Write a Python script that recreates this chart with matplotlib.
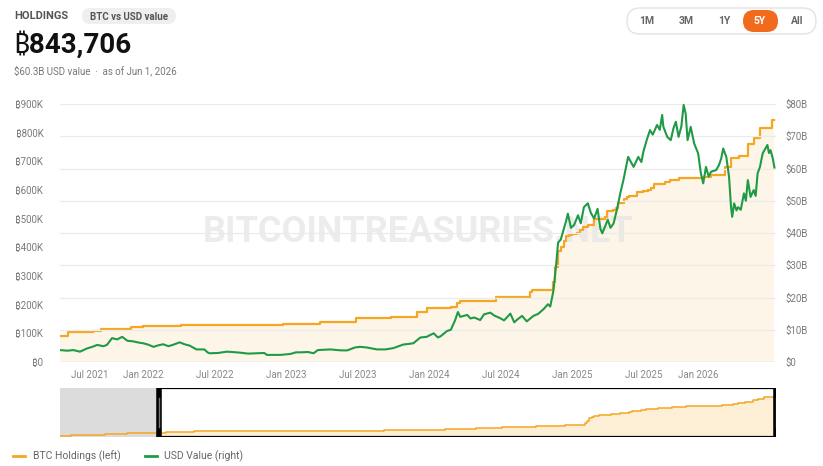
import numpy as np
import pandas as pd
import matplotlib
matplotlib.use("Agg")
from matplotlib import pyplot as plt
from matplotlib.patches import FancyBboxPatch, Rectangle
import matplotlib.dates as mdates

plt.rcParams['font.family'] = ['Roboto', 'Noto Sans', 'DejaVu Sans']

# BTC holdings (step changes)
hold_dates = ["2020-08-11", "2020-09-14", "2020-12-04", "2020-12-21", "2021-02-02", "2021-02-24",
              "2021-04-05", "2021-06-01", "2021-06-21", "2021-08-24", "2021-09-13", "2021-11-29",
              "2021-12-09", "2021-12-30", "2022-02-01", "2022-04-05", "2022-06-29", "2022-09-20",
              "2022-12-22", "2023-03-27", "2023-04-05", "2023-06-28", "2023-08-01", "2023-09-25",
              "2023-11-30", "2023-12-27", "2024-02-06", "2024-02-26", "2024-03-11", "2024-03-19",
              "2024-06-20", "2024-09-13", "2024-09-20", "2024-11-11", "2024-11-18", "2024-11-25",
              "2024-12-02", "2024-12-09", "2024-12-16", "2024-12-23", "2024-12-30", "2025-01-13",
              "2025-01-21", "2025-01-27", "2025-02-10", "2025-02-24", "2025-03-24", "2025-03-31",
              "2025-04-14", "2025-04-21", "2025-04-28", "2025-05-12", "2025-05-19", "2025-05-26",
              "2025-06-16", "2025-06-30", "2025-07-14", "2025-07-21", "2025-07-29", "2025-08-25",
              "2025-09-08", "2025-09-29", "2025-12-01", "2025-12-22", "2026-01-26", "2026-02-09",
              "2026-03-02", "2026-03-25", "2026-04-09", "2026-04-26", "2026-05-27", "2026-06-01"]
hold_btc = [21454, 38250, 40824, 70470, 71079, 90531,
            91326, 92079, 105085, 108992, 114042, 121044,
            122478, 124391, 125051, 129218, 129699, 130000,
            132500, 138955, 140000, 152333, 152800, 158245,
            174530, 189150, 190000, 193000, 205000, 214246,
            226331, 244800, 252220, 279420, 331200, 386700,
            402100, 423650, 439000, 444262, 446400, 450000,
            461000, 471107, 478740, 499096, 506137, 528185,
            531644, 538200, 553555, 568840, 576230, 580250,
            592100, 597325, 601550, 607770, 620000, 628000,
            636000, 641000, 646000, 652000, 681000, 711000,
            717000, 762000, 781000, 816000, 843706, 843706]

# USD value of holdings, $B
usd_dates = ["2021-06-01", "2021-06-20", "2021-07-05", "2021-07-22", "2021-08-09", "2021-08-25",
             "2021-09-04", "2021-09-20", "2021-09-29", "2021-10-12", "2021-10-25", "2021-11-07",
             "2021-11-20", "2021-12-05", "2021-12-20", "2021-12-31", "2022-01-12", "2022-01-26",
             "2022-02-08", "2022-02-20", "2022-03-05", "2022-03-16", "2022-04-03", "2022-04-15",
             "2022-04-28", "2022-05-10", "2022-05-16", "2022-06-05", "2022-06-13", "2022-06-18",
             "2022-07-10", "2022-08-01", "2022-08-15", "2022-09-04", "2022-09-25", "2022-10-17",
             "2022-11-05", "2022-11-12", "2022-12-16", "2023-01-11", "2023-01-25", "2023-02-05",
             "2023-02-25", "2023-03-11", "2023-03-22", "2023-04-23", "2023-05-20", "2023-06-05",
             "2023-06-25", "2023-07-08", "2023-07-25", "2023-08-20", "2023-09-10", "2023-10-01",
             "2023-10-26", "2023-11-21", "2023-12-09", "2023-12-25", "2024-01-12", "2024-01-23",
             "2024-01-30", "2024-02-15", "2024-02-25", "2024-03-07", "2024-03-14", "2024-03-20",
             "2024-04-07", "2024-04-15", "2024-04-25", "2024-05-10", "2024-05-20", "2024-06-05",
             "2024-06-15", "2024-06-30", "2024-07-10", "2024-07-26", "2024-08-05", "2024-08-13",
             "2024-08-25", "2024-09-06", "2024-09-23", "2024-10-05", "2024-10-19", "2024-10-30",
             "2024-11-05", "2024-11-13", "2024-11-20", "2024-11-25", "2024-12-02", "2024-12-08",
             "2024-12-15", "2024-12-20", "2024-12-28", "2025-01-05", "2025-01-15", "2025-01-22",
             "2025-01-30", "2025-02-09", "2025-02-17", "2025-02-25", "2025-03-06", "2025-03-13",
             "2025-03-18", "2025-04-01", "2025-04-08", "2025-04-16", "2025-04-26", "2025-05-03",
             "2025-05-11", "2025-05-23", "2025-06-06", "2025-06-18", "2025-06-26", "2025-07-01",
             "2025-07-10", "2025-07-18", "2025-07-25", "2025-08-05", "2025-08-12", "2025-08-18",
             "2025-08-21", "2025-08-31", "2025-09-09", "2025-09-16", "2025-09-22", "2025-09-29",
             "2025-10-06", "2025-10-12", "2025-10-17", "2025-10-22", "2025-10-30", "2025-11-08",
             "2025-11-18", "2025-11-25", "2025-12-01", "2025-12-08", "2025-12-15", "2025-12-21",
             "2026-01-03", "2026-01-10", "2026-01-16", "2026-01-21", "2026-01-29", "2026-02-05",
             "2026-02-10", "2026-02-13", "2026-02-18", "2026-02-24", "2026-02-28", "2026-03-07",
             "2026-03-15", "2026-03-20", "2026-03-25", "2026-04-01", "2026-04-09", "2026-04-14",
             "2026-04-19", "2026-04-25", "2026-05-02", "2026-05-08", "2026-05-14", "2026-05-18",
             "2026-05-22", "2026-05-28", "2026-06-01"]
usd_bn = [3.7, 3.5, 3.7, 3.2, 4.2, 4.8,
          5.3, 4.9, 5.3, 7.4, 7.0, 7.8,
          6.6, 6.4, 6.0, 5.8, 5.4, 4.7,
          5.2, 5.5, 4.9, 5.3, 6.1, 5.5,
          5.1, 4.3, 3.9, 3.9, 3.0, 2.7,
          2.8, 3.2, 3.1, 2.9, 2.6, 2.7,
          2.8, 2.2, 2.2, 2.5, 3.0, 3.0,
          3.1, 2.7, 3.7, 3.9, 3.6, 3.6,
          4.5, 4.7, 4.5, 3.9, 3.9, 4.3,
          5.4, 5.8, 7.6, 7.8, 8.9, 7.6,
          8.0, 9.6, 10.0, 13.0, 15.5, 14.0,
          14.6, 13.5, 13.8, 13.0, 14.8, 15.3,
          14.4, 13.6, 12.9, 15.0, 12.3, 13.2,
          14.3, 12.6, 14.3, 14.9, 16.4, 17.9,
          17.2, 22.0, 30.0, 37.0, 38.0, 40.5,
          43.5, 46.0, 41.6, 42.5, 45.5, 43.0,
          48.0, 49.2, 46.2, 44.5, 47.5, 41.4,
          39.9, 44.1, 41.6, 43.0, 48.1, 52.3,
          56.4, 63.6, 60.5, 63.6, 62.0, 65.2,
          69.0, 71.9, 70.5, 73.5, 72.0, 76.6,
          73.0, 69.8, 68.8, 72.5, 74.5, 69.8,
          73.0, 79.7, 77.1, 68.8, 72.9, 67.7,
          64.7, 58.5, 55.4, 60.5, 57.5, 59.0,
          59.5, 61.0, 63.1, 66.2, 63.6, 57.4,
          48.1, 45.0, 49.2, 47.0, 48.0, 47.2,
          52.3, 50.0, 56.4, 51.2, 53.3, 51.5,
          58.5, 60.5, 64.7, 66.0, 67.3, 64.8,
          65.7, 63.0, 60.3]

left_ticks = [0, 100000, 200000, 300000, 400000, 500000, 600000, 700000, 800000, 900000]
left_labels = ["₿0", "₿100K", "₿200K", "₿300K", "₿400K", "₿500K", "₿600K", "₿700K", "₿800K", "₿900K"]
right_ticks = [0, 10, 20, 30, 40, 50, 60, 70, 80]
right_labels = ["$0", "$10B", "$20B", "$30B", "$40B", "$50B", "$60B", "$70B", "$80B"]
x_tick_dates = ["2021-07-01", "2022-01-01", "2022-07-01", "2023-01-01", "2023-07-01",
                "2024-01-01", "2024-07-01", "2025-01-01", "2025-07-01", "2026-01-01"]
x_tick_labels = ["Jul 2021", "Jan 2022", "Jul 2022", "Jan 2023", "Jul 2023",
                 "Jan 2024", "Jul 2024", "Jan 2025", "Jul 2025", "Jan 2026"]
ranges = ["1M", "3M", "1Y", "5Y", "All"]

hold = pd.Series(hold_btc, index=pd.to_datetime(hold_dates))
usd = pd.Series(usd_bn, index=pd.to_datetime(usd_dates))
start, end = pd.Timestamp("2021-06-01"), pd.Timestamp("2026-06-01")
win = hold[hold.index >= start]

ORANGE = "#f5a623"
GREEN = "#1f9a47"
FILL = "#fdf6e8"
GRAY = "#7a7a7a"

W, H = 823, 466
fig = plt.figure(figsize=(W / 100, H / 100), dpi=100)


def box(l, t, r, b):
    return [l / W, 1 - b / H, (r - l) / W, (b - t) / H]


# main chart
ax = fig.add_axes(box(60, 104, 776, 362))
ax2 = ax.twinx()
ax.step(win.index, win.values, where="post", color=ORANGE, lw=1.6, zorder=3)
ax.fill_between(win.index, win.values, step="post", color=FILL, lw=0, zorder=1)
ax.text(0.5, 0.505, "BITCOINTREASURIES.NET", transform=ax.transAxes, ha="center", va="center",
        fontsize=26, fontweight="bold", color="#e4e4e4", alpha=0.7, zorder=2)
ax2.plot(usd.index, usd.values, color=GREEN, lw=1.5, zorder=3)

ax.set_xlim(start, pd.Timestamp("2026-06-05"))
ax.set_ylim(0, 900000)
ax2.set_ylim(0, 80)
ax.set_yticks(left_ticks, left_labels)
ax2.set_yticks(right_ticks, right_labels)
ax.set_xticks([])
ax2.grid(axis="y", color="#ebebeb", lw=0.9, zorder=0)
ax2.set_axisbelow(True)
for a in (ax, ax2):
    for s in a.spines.values():
        s.set_visible(False)
    a.tick_params(length=0, labelsize=7, labelcolor=GRAY)
ax.tick_params(axis="y", pad=12)
ax2.tick_params(axis="y", pad=7)
ax2.axhline(0, color="#dddddd", lw=1, zorder=0)

shifts = {0: 18, len(x_tick_labels) - 1: -17}
for i, (d, lab) in enumerate(zip(x_tick_dates, x_tick_labels)):
    ax.annotate(lab, xy=(pd.Timestamp(d), 0), xycoords=("data", "axes fraction"),
                xytext=(shifts.get(i, 0), -13), textcoords="offset pixels",
                ha="center", va="center", fontsize=7, color="#888888")

# navigator
nav = fig.add_axes(box(60, 388, 776, 437))
nav.step(hold.index, hold.values, where="post", color=ORANGE, lw=1.1, zorder=3)
nav.fill_between(hold.index, hold.values, step="post", color="#fdefd6", lw=0, zorder=1)
nav.set_xlim(pd.Timestamp("2020-08-11"), end)
nav.set_ylim(0, 1010000)
nav.axvspan(pd.Timestamp("2020-08-11"), start, color="#d9d9d9", alpha=0.9, lw=0, zorder=2)
s0, s1 = mdates.date2num(start), mdates.date2num(end)
nav.add_patch(Rectangle((s0, 0), s1 - s0, 1010000, fill=False, ec="black", lw=1.6, zorder=4))
for d in (start, end):
    nav.axvline(d, color="black", lw=4, zorder=5)
    nav.axvline(d, ymin=0.2, ymax=0.8, color="#777777", lw=1, zorder=6)
nav.axis("off")

# header overlay in pixel coordinates
ov = fig.add_axes([0, 0, 1, 1], zorder=-1)
ov.set_xlim(0, W)
ov.set_ylim(H, 0)
ov.axis("off")

ov.text(14, 16, "HOLDINGS", fontsize=8, fontweight="bold", color="#555555", va="center")
ov.add_patch(FancyBboxPatch((82, 8), 94, 16, boxstyle="round,pad=0,rounding_size=8",
                            fc="#f0efed", ec="none"))
ov.text(129, 16.5, "BTC vs USD value", fontsize=7, fontweight="bold", color="#555555",
        ha="center", va="center")
ov.text(13, 45, "₿843,706", fontsize=20, fontweight="bold", color="#111111", va="center")
ov.text(14, 71, "$60.3B USD value  ·  as of Jun 1, 2026", fontsize=7, color="#777777", va="center")

ov.add_patch(FancyBboxPatch((627, 8), 189, 26, boxstyle="round,pad=0,rounding_size=13",
                            fc="white", ec="#e3e3e3", lw=1))
ov.add_patch(FancyBboxPatch((743, 10), 35, 22, boxstyle="round,pad=0,rounding_size=11",
                            fc="#f26b1d", ec="none"))
for lab, x in zip(ranges, [647, 686, 724, 760, 797]):
    ov.text(x, 21.5, lab, fontsize=7.5, fontweight="bold", ha="center", va="center",
            color="white" if lab == "5Y" else "#666666")

# legend
ov.plot([13, 25], [456, 456], color=ORANGE, lw=2)
ov.text(33, 456, "BTC Holdings (left)", fontsize=7.5, color="#666666", va="center")
ov.plot([145, 157], [456, 456], color=GREEN, lw=2)
ov.text(164, 456, "USD Value (right)", fontsize=7.5, color="#666666", va="center")

fig.savefig("out.png", dpi=100)
